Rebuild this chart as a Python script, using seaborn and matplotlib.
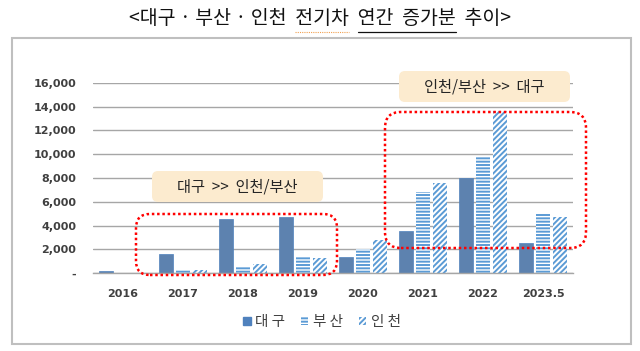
import numpy as np
import pandas as pd
import seaborn as sns
import matplotlib.pyplot as plt
from matplotlib.patches import Patch, FancyBboxPatch, Rectangle
from matplotlib.lines import Line2D

years = ['2016', '2017', '2018', '2019', '2020', '2021', '2022', '2023.5']
daegu = [210, 1600, 4600, 4720, 1350, 3530, 8020, 2520]
busan = [0, 250, 640, 1350, 2070, 6850, 9770, 4990]
incheon = [0, 300, 780, 1260, 2800, 7550, 13610, 4740]
cities = ['대구', '부산', '인천']

df = pd.DataFrame({
    'year': years * 3,
    'city': [cities[0]] * 8 + [cities[1]] * 8 + [cities[2]] * 8,
    'value': daegu + busan + incheon,
})

sns.set_style('white')
plt.rcParams['font.family'] = ['Noto Sans CJK KR', 'DejaVu Sans']
plt.rcParams['hatch.linewidth'] = 1.4

W, H = 640, 351
fig = plt.figure(figsize=(6.4, 3.51), dpi=100)
ax = fig.add_axes([93 / W, 1 - 273.3 / H, 480 / W, (273.3 - 82.7) / H])

blue = '#4F81BD'
light = '#5B9BD5'
sns.barplot(data=df, x='year', y='value', hue='city', order=years, hue_order=cities,
            palette=[blue, 'white', 'white'], width=0.85, gap=0.2, legend=False, ax=ax)

for bar in ax.containers[0]:
    bar.set_edgecolor(blue)
    bar.set_linewidth(0.5)
for bar in ax.containers[1]:
    bar.set_facecolor('white')
    bar.set_edgecolor(light)
    bar.set_linewidth(0)
    bar.set_hatch('-----')
for bar in ax.containers[2]:
    bar.set_facecolor('white')
    bar.set_edgecolor(light)
    bar.set_linewidth(0)
    bar.set_hatch('//////')

ax.set_ylim(0, 16000)
ax.set_xlim(-0.5, 7.5)
ax.set_yticks(range(0, 16001, 2000))
ax.set_yticklabels(['-'] + [f'{v:,}' for v in range(2000, 16001, 2000)])
ax.grid(axis='y', color='#A6A6A6', linewidth=1)
ax.set_axisbelow(True)
for s in ['top', 'right', 'left']:
    ax.spines[s].set_visible(False)
ax.spines['bottom'].set_color('#A6A6A6')
ax.spines['bottom'].set_linewidth(1)
ax.set_xlabel('')
ax.set_ylabel('')
ax.tick_params(axis='y', length=0, pad=12, labelsize=8, labelcolor='#404040')
ax.tick_params(axis='x', length=0, pad=11, labelsize=8, labelcolor='#404040')
for lab in ax.get_xticklabels() + ax.get_yticklabels():
    lab.set_fontweight('bold')
    lab.set_family('DejaVu Sans')

# legend
handles = [
    Patch(facecolor=blue, edgecolor=blue),
    Patch(facecolor='white', edgecolor=light, hatch='-----', linewidth=0),
    Patch(facecolor='white', edgecolor=light, hatch='//////', linewidth=0),
]
fig.legend(handles, ['대 구', '부 산', '인 천'], loc='center', bbox_to_anchor=(322 / W, 1 - 322 / H),
           ncol=3, frameon=False, fontsize=10.5, handlelength=0.5, handleheight=0.5,
           handletextpad=0.3, columnspacing=1.1, labelcolor='#404040')

# outer frame
fig.patches.append(Rectangle((12 / 100, (H - 344) / 100), 619 / 100, 306 / 100,
                             transform=fig.dpi_scale_trans, fill=False,
                             edgecolor='#BFBFBF', linewidth=1.5))


def px_box(x0, y0, x1, y1, **kw):
    r = kw.pop('r', 0.12)
    p = FancyBboxPatch((x0 / 100 + r, (H - y1) / 100 + r), (x1 - x0) / 100 - 2 * r,
                       (y1 - y0) / 100 - 2 * r, boxstyle=f'round,pad={r}',
                       transform=fig.dpi_scale_trans, **kw)
    fig.patches.append(p)


# annotation boxes
beige = '#FCEBCF'
px_box(152, 171, 323, 202, r=0.06, facecolor=beige, edgecolor='none')
fig.text(237.5 / W, 1 - 187 / H, '대구  >>  인천/부산', ha='center', va='center',
         fontsize=11, color='#262626')
px_box(399, 71, 570, 102, r=0.06, facecolor=beige, edgecolor='none')
fig.text(484.5 / W, 1 - 87 / H, '인천/부산  >>  대구', ha='center', va='center',
         fontsize=11, color='#262626')

# red dotted regions
px_box(136, 214, 337, 275, r=0.14, fill=False, edgecolor='#FF0000', linewidth=1.8,
       linestyle=(0, (1, 1.1)))
px_box(385, 112, 586, 248, r=0.16, fill=False, edgecolor='#FF0000', linewidth=1.8,
       linestyle=(0, (1, 1.1)))

# title
fs = 14
title = '<대구 · 부산 · 인천  전기차  연간  증가분  추이>'
ty = 1 - 18 / H
t = fig.text(0.5, ty, title, ha='center', va='center', fontsize=fs, color='#111111')
r = fig.canvas.get_renderer()
bb = t.get_window_extent(r)


def width_of(s):
    tmp = fig.text(0, 0, s, fontsize=fs)
    w = tmp.get_window_extent(r).width
    tmp.remove()
    return w


w_a = width_of('<대구 · 부산 · 인천  전기차  연간  증가분')
w_b = width_of('연간  증가분')
w_c = width_of('<대구 · 부산 · 인천  전기차')
w_d = width_of('전기차')
uy = H - 32
fig.add_artist(Line2D([(bb.x0 + w_a - w_b) / W, (bb.x0 + w_a) / W], [uy / H, uy / H],
                      color='#111111', linewidth=0.9, transform=fig.transFigure))
fig.add_artist(Line2D([(bb.x0 + w_c - w_d) / W, (bb.x0 + w_c) / W], [uy / H, uy / H],
                      color='#F0A050', linewidth=0.8, linestyle=(0, (1, 1)),
                      transform=fig.transFigure))

fig.savefig('out.png', dpi=100)
